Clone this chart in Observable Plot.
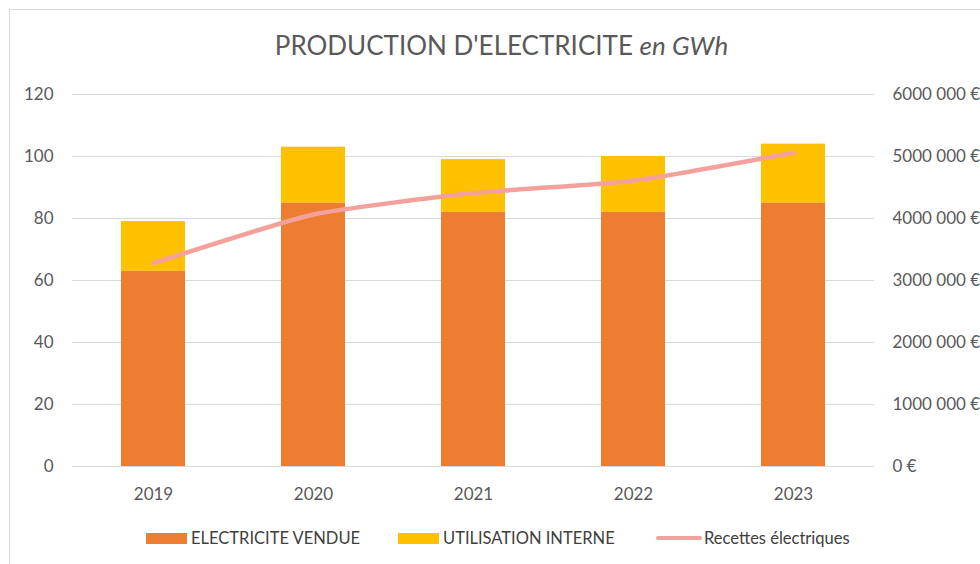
<!DOCTYPE html>
<html>
<head>
<meta charset="utf-8">
<script src="https://cdn.jsdelivr.net/npm/d3@7"></script>
<script src="https://cdn.jsdelivr.net/npm/@observablehq/plot@0.6"></script>
<style>
  html, body { margin: 0; padding: 0; background: #fff; }
  body { width: 980px; height: 564px; overflow: hidden; font-family: Lato, "Open Sans", sans-serif; }
  #wrap { position: relative; width: 980px; height: 564px; }
  #frame { position: absolute; left: 9px; top: 9px; width: 1000px; height: 600px; border: 1px solid #d9d9d9; box-sizing: border-box; }
  #title { position: absolute; left: 0; width: 1003px; top: 29px; text-align: center; font-size: 26px; color: #595959; white-space: nowrap; }
  #chart { position: absolute; left: 0; top: 0; }
  .leg { position: absolute; top: 528px; font-size: 16.5px; color: #404040; display: flex; align-items: center; white-space: nowrap; }
  .sw { display: inline-block; width: 41px; height: 11px; margin-right: 4px; }
  .ln { display: inline-block; width: 46px; height: 4px; border-radius: 2px; margin-right: 2px; }
</style>
</head>
<body>
<div id="wrap">
  <div id="frame"></div>
  <div id="title">PRODUCTION D'ELECTRICITE <i>en GWh</i></div>
  <div id="chart"></div>
  <div class="leg" style="left:146px"><span class="sw" style="background:#ED7D31"></span>ELECTRICITE VENDUE</div>
  <div class="leg" style="left:398px"><span class="sw" style="background:#FFC000"></span>UTILISATION INTERNE</div>
  <div class="leg" style="left:656px"><span class="ln" style="background:#F4A19B"></span>Recettes électriques</div>
</div>
<script>
const years = ["2019", "2020", "2021", "2022", "2023"];
const vendue = [63, 85, 82, 82, 85];
const interne = [16, 18, 17, 18, 19];
const recettes = [3280000, 4065000, 4410000, 4610000, 5060000];
const leftTicks = [0, 20, 40, 60, 80, 100, 120];
const rightTickLabels = ["0 €", "1000 000 €", "2000 000 €", "3000 000 €", "4000 000 €", "5000 000 €", "6000 000 €"];
const seriesNames = ["ELECTRICITE VENDUE", "UTILISATION INTERNE"];
const seriesColors = ["#ED7D31", "#FFC000"];
const euroPerUnit = 6000000 / 120;

const bars = [];
years.forEach((y, i) => {
  bars.push({year: y, series: seriesNames[0], value: vendue[i]});
  bars.push({year: y, series: seriesNames[1], value: interne[i]});
});
const line = years.map((y, i) => ({year: y, rev: recettes[i]}));

const plot = Plot.plot({
  width: 980,
  height: 564,
  marginLeft: 72,
  marginRight: 106,
  marginTop: 94,
  marginBottom: 98,
  style: {fontFamily: "Lato, 'Open Sans', sans-serif", fontSize: "17px", color: "#595959", background: "transparent"},
  x: {domain: years, paddingInner: 0.6, paddingOuter: 0.3, label: null},
  y: {domain: [0, 120], label: null},
  color: {domain: seriesNames, range: seriesColors},
  marks: [
    Plot.ruleY(leftTicks, {stroke: "#d9d9d9", strokeWidth: 1.2}),
    Plot.barY(bars, {x: "year", y: "value", fill: "series", order: seriesNames}),
    Plot.line(line, {x: "year", y: d => d.rev / euroPerUnit, stroke: "#F4A19B", strokeWidth: 4.5, curve: "cardinal", tension: 0.5}),
    Plot.axisY(leftTicks, {anchor: "left", tickSize: 0, tickPadding: 19, label: null, fill: "#595959"}),
    Plot.axisY(leftTicks, {anchor: "right", tickSize: 0, tickPadding: 18, label: null, fill: "#595959",
      tickFormat: (d) => rightTickLabels[leftTicks.indexOf(d)]}),
    Plot.axisX(years, {anchor: "bottom", tickSize: 0, tickPadding: 21, label: null, fill: "#595959"})
  ]
});
document.getElementById("chart").appendChild(plot);
</script>
</body>
</html>
